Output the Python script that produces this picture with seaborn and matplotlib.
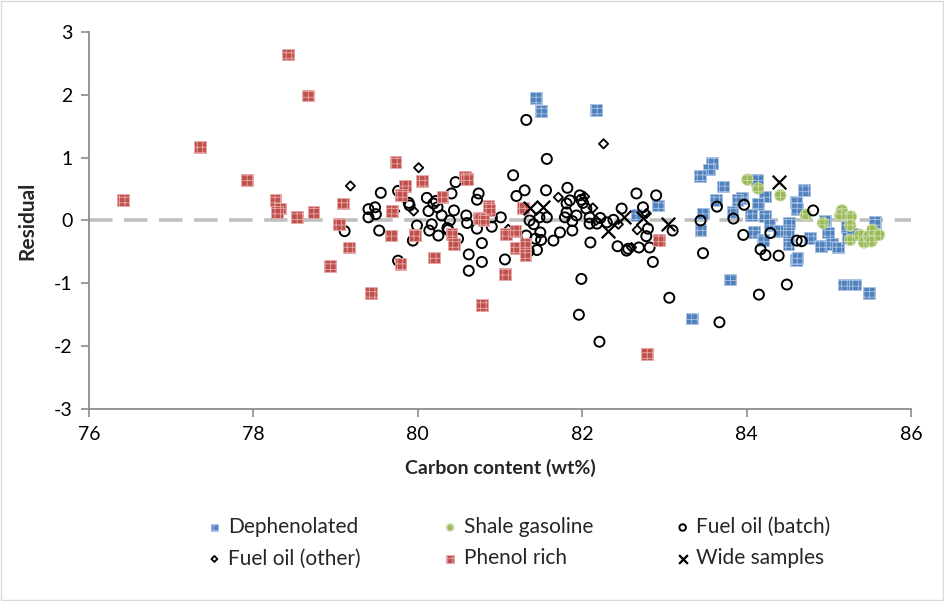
import matplotlib
matplotlib.use("Agg")
import matplotlib.pyplot as plt
import seaborn as sns
import pandas as pd
from matplotlib.patches import Rectangle

# ---- residuals by sample group: carbon content (wt%) and residual ----
dephenolated_x = [81.44, 81.50, 82.17, 82.92, 82.66, 83.34, 83.58, 83.54, 83.43, 83.71,
                  84.13, 83.63, 83.94, 83.89, 84.22, 84.14, 83.83, 84.05, 83.47, 84.22,
                  84.28, 83.44, 84.09, 84.39, 84.20, 84.52, 84.51, 84.51, 84.60, 84.61,
                  84.70, 84.60, 84.62, 84.77, 84.91, 84.95, 84.99, 85.04, 85.11, 85.22,
                  85.23, 85.28, 85.56, 83.80, 85.18, 85.32, 85.49]
dephenolated_y = [1.95, 1.74, 1.76, 0.24, 0.09, -1.56, 0.92, 0.81, 0.71, 0.54,
                  0.65, 0.33, 0.36, 0.32, 0.38, 0.26, 0.13, 0.09, 0.11, 0.07,
                  -0.07, -0.15, -0.18, -0.17, -0.31, -0.04, -0.19, -0.38, 0.29, 0.18,
                  0.49, -0.63, -0.60, -0.28, -0.40, 0.00, -0.19, -0.38, -0.43, -0.11,
                  -0.28, -0.21, -0.03, -0.94, -1.02, -1.02, -1.15]

shale_x = [84.01, 84.14, 84.41, 84.72, 84.93, 85.16, 85.14, 85.27, 85.26, 85.26,
           85.38, 85.43, 85.48, 85.53, 85.52, 85.61]
shale_y = [0.65, 0.51, 0.40, 0.09, -0.04, 0.16, 0.08, 0.06, -0.08, -0.31,
           -0.23, -0.35, -0.25, -0.15, -0.33, -0.23]

batch_x = [79.11, 79.40, 79.48, 79.49, 79.40, 79.55, 79.53, 79.76, 79.89, 79.90,
           79.76, 79.94, 79.99, 80.11, 80.13, 80.19, 80.22, 80.24, 80.29, 80.17,
           80.14, 80.25, 80.39, 80.36, 80.44, 80.46, 80.41, 80.49, 80.37, 80.59,
           80.60, 80.62, 80.62, 80.72, 80.74, 80.72, 80.78, 80.78, 80.90, 80.90,
           81.01, 81.06, 81.16, 81.20, 81.30, 81.32, 81.32, 81.36, 81.41, 81.43,
           81.48, 81.49, 81.50, 81.56, 81.57, 81.57, 81.65, 81.73, 81.79, 81.81,
           81.82, 81.85, 81.88, 81.88, 81.93, 81.97, 81.99, 82.01, 82.05, 82.09,
           82.09, 81.99, 81.96, 82.21, 82.10, 82.18, 82.22, 82.30, 82.38, 82.43,
           82.48, 82.54, 82.56, 82.66, 82.69, 82.74, 82.80, 82.82, 82.86, 82.90,
           83.06, 83.10, 83.64, 83.44, 83.84, 83.97, 83.96, 84.29, 84.17, 84.23,
           84.39, 83.47, 84.61, 84.67, 84.81, 84.49, 84.15, 83.67, 81.81, 82.78,
           81.35, 81.45]
batch_y = [-0.17, 0.18, 0.21, 0.10, 0.05, 0.44, -0.16, 0.47, 0.28, 0.24,
           -0.64, -0.32, -0.08, 0.36, 0.15, 0.27, 0.31, 0.21, 0.08, -0.06,
           -0.16, -0.24, 0.00, -0.12, 0.16, 0.61, 0.43, -0.29, -0.15, 0.08,
           -0.04, -0.54, -0.80, 0.33, 0.43, -0.13, -0.36, -0.66, 0.05, -0.10,
           0.05, -0.62, 0.72, 0.39, 0.48, 1.60, -0.24, 0.00, -0.06, -0.29,
           0.05, -0.19, -0.31, 0.48, 0.98, 0.05, -0.32, -0.19, 0.05, 0.27,
           0.52, 0.32, -0.01, -0.16, 0.08, 0.40, 0.33, 0.28, 0.19, 0.05,
           -0.05, -0.93, -1.50, -1.93, -0.35, -0.05, 0.04, -0.03, 0.01, -0.41,
           0.19, -0.48, -0.45, 0.43, -0.43, 0.21, -0.13, -0.43, -0.66, 0.40,
           -1.23, -0.16, 0.22, 0.00, 0.03, 0.25, -0.23, -0.20, -0.46, -0.55,
           -0.56, -0.52, -0.32, -0.33, 0.16, -1.02, -1.18, -1.62, 0.13, -0.25,
           -0.49, -0.47]

other_x = [79.18, 80.01, 79.95, 79.72, 81.10, 81.71, 82.03, 82.13, 82.26, 82.17,
           82.44, 82.67, 82.78, 82.60]
other_y = [0.55, 0.84, 0.15, 0.15, -0.14, 0.37, 0.38, 0.20, 1.22, 0.00,
           -0.06, -0.15, 0.11, -0.43]

phenol_x = [76.41, 77.35, 77.92, 78.27, 78.32, 78.29, 78.42, 78.66, 78.53, 78.73,
            78.93, 79.09, 79.04, 79.16, 79.43, 79.73, 80.05, 79.84, 79.80, 80.30,
            79.69, 79.67, 79.97, 80.41, 80.44, 80.20, 79.79, 80.57, 80.60, 80.86,
            80.87, 80.74, 80.80, 81.28, 81.07, 81.19, 81.19, 81.31, 81.31, 81.06,
            80.78, 82.93, 82.79]
phenol_y = [0.33, 1.17, 0.65, 0.32, 0.19, 0.13, 2.64, 1.99, 0.06, 0.14,
            -0.72, 0.27, -0.06, -0.43, -1.16, 0.93, 0.63, 0.55, 0.40, 0.37,
            0.15, -0.24, -0.23, -0.21, -0.37, -0.59, -0.69, 0.70, 0.66, 0.23,
            0.17, 0.04, 0.00, 0.20, -0.21, -0.17, -0.44, -0.38, -0.55, -0.85,
            -1.34, -0.31, -2.13]

wide_x = [81.36, 81.52, 82.31, 82.51, 82.74, 83.05, 84.39]
wide_y = [0.20, 0.21, -0.16, 0.06, 0.04, -0.06, 0.61]

BLUE, BLUE_LT = "#4F81BD", "#A9C1E2"
RED, RED_LT = "#C0504D", "#E7A9A7"
GREEN, GREEN_LT = "#9BBB59", "#CDDDAC"

sns.set_theme(style="white")
plt.rcParams["font.family"] = ["Lato", "DejaVu Sans"]
plt.rcParams["axes.unicode_minus"] = False
plt.rcParams["hatch.linewidth"] = 0.6

fig = plt.figure(figsize=(9.44, 6.01), dpi=100)
ax = fig.add_axes([0.0943, 0.3195, 0.8707, 0.6273])

# zero reference line
ax.axhline(0, color="#BFBFBF", lw=2.6, dashes=(6.5, 3.2), zorder=1)

series = [
    ("Dephenolated", dephenolated_x, dephenolated_y,
     dict(marker="s", s=72, color=BLUE, edgecolor=BLUE_LT, linewidth=0.6), "+++"),
    ("Shale gasoline", shale_x, shale_y,
     dict(marker="o", s=70, color=GREEN, edgecolor=GREEN_LT, linewidth=0.6), "+++"),
    ("Fuel oil (batch)", batch_x, batch_y,
     dict(marker="o", s=52, facecolor="none", edgecolor="black", linewidth=1.4), None),
    ("Fuel oil (other)", other_x, other_y,
     dict(marker="D", s=22, facecolor="none", edgecolor="black", linewidth=1.3), None),
    ("Phenol rich", phenol_x, phenol_y,
     dict(marker="s", s=72, color=RED, edgecolor=RED_LT, linewidth=0.6), "+++"),
    ("Wide samples", wide_x, wide_y,
     dict(marker="x", s=95, color="black", linewidth=1.6), None),
]

handles = {}
for name, xs, ys, kw, hatch in series:
    df = pd.DataFrame({"carbon": xs, "residual": ys})
    n_before = len(ax.collections)
    sns.scatterplot(data=df, x="carbon", y="residual", ax=ax, zorder=3,
                    legend=False, **kw)
    coll = ax.collections[n_before]
    if hatch:
        coll.set_hatch(hatch)
    handles[name] = coll

ax.set_xlim(76, 86)
ax.set_ylim(-3, 3)
ax.set_xticks(range(76, 87, 2))
ax.set_yticks(range(-3, 4))

for side in ("top", "right"):
    ax.spines[side].set_visible(False)
for side in ("left", "bottom"):
    ax.spines[side].set_color("#8C8C8C")
    ax.spines[side].set_linewidth(1.3)
ax.tick_params(axis="both", which="major", direction="out", length=6, width=1.2,
               color="#8C8C8C", labelsize=14, labelcolor="black", pad=6,
               left=True, bottom=True)

ax.set_xlabel("Carbon content (wt%)", fontsize=14, fontweight="bold", labelpad=12)
ax.set_ylabel("Residual", fontsize=15, fontweight="bold", labelpad=12)

order = ["Dephenolated", "Fuel oil (other)", "Shale gasoline", "Phenol rich",
         "Fuel oil (batch)", "Wide samples"]
leg = fig.legend([handles[k] for k in order], order, loc="center",
                 bbox_to_anchor=(0.549, 0.097), ncol=3, frameon=False,
                 fontsize=15, markerscale=0.65, handletextpad=0.25,
                 columnspacing=3.9, labelspacing=0.55, handlelength=0.8)

# chart-area border
fig.add_artist(Rectangle((0.001, 0.001), 0.998, 0.997, transform=fig.transFigure,
                         fill=False, edgecolor="#D9D9D9", linewidth=1.0))

fig.savefig("out.png", dpi=100)
